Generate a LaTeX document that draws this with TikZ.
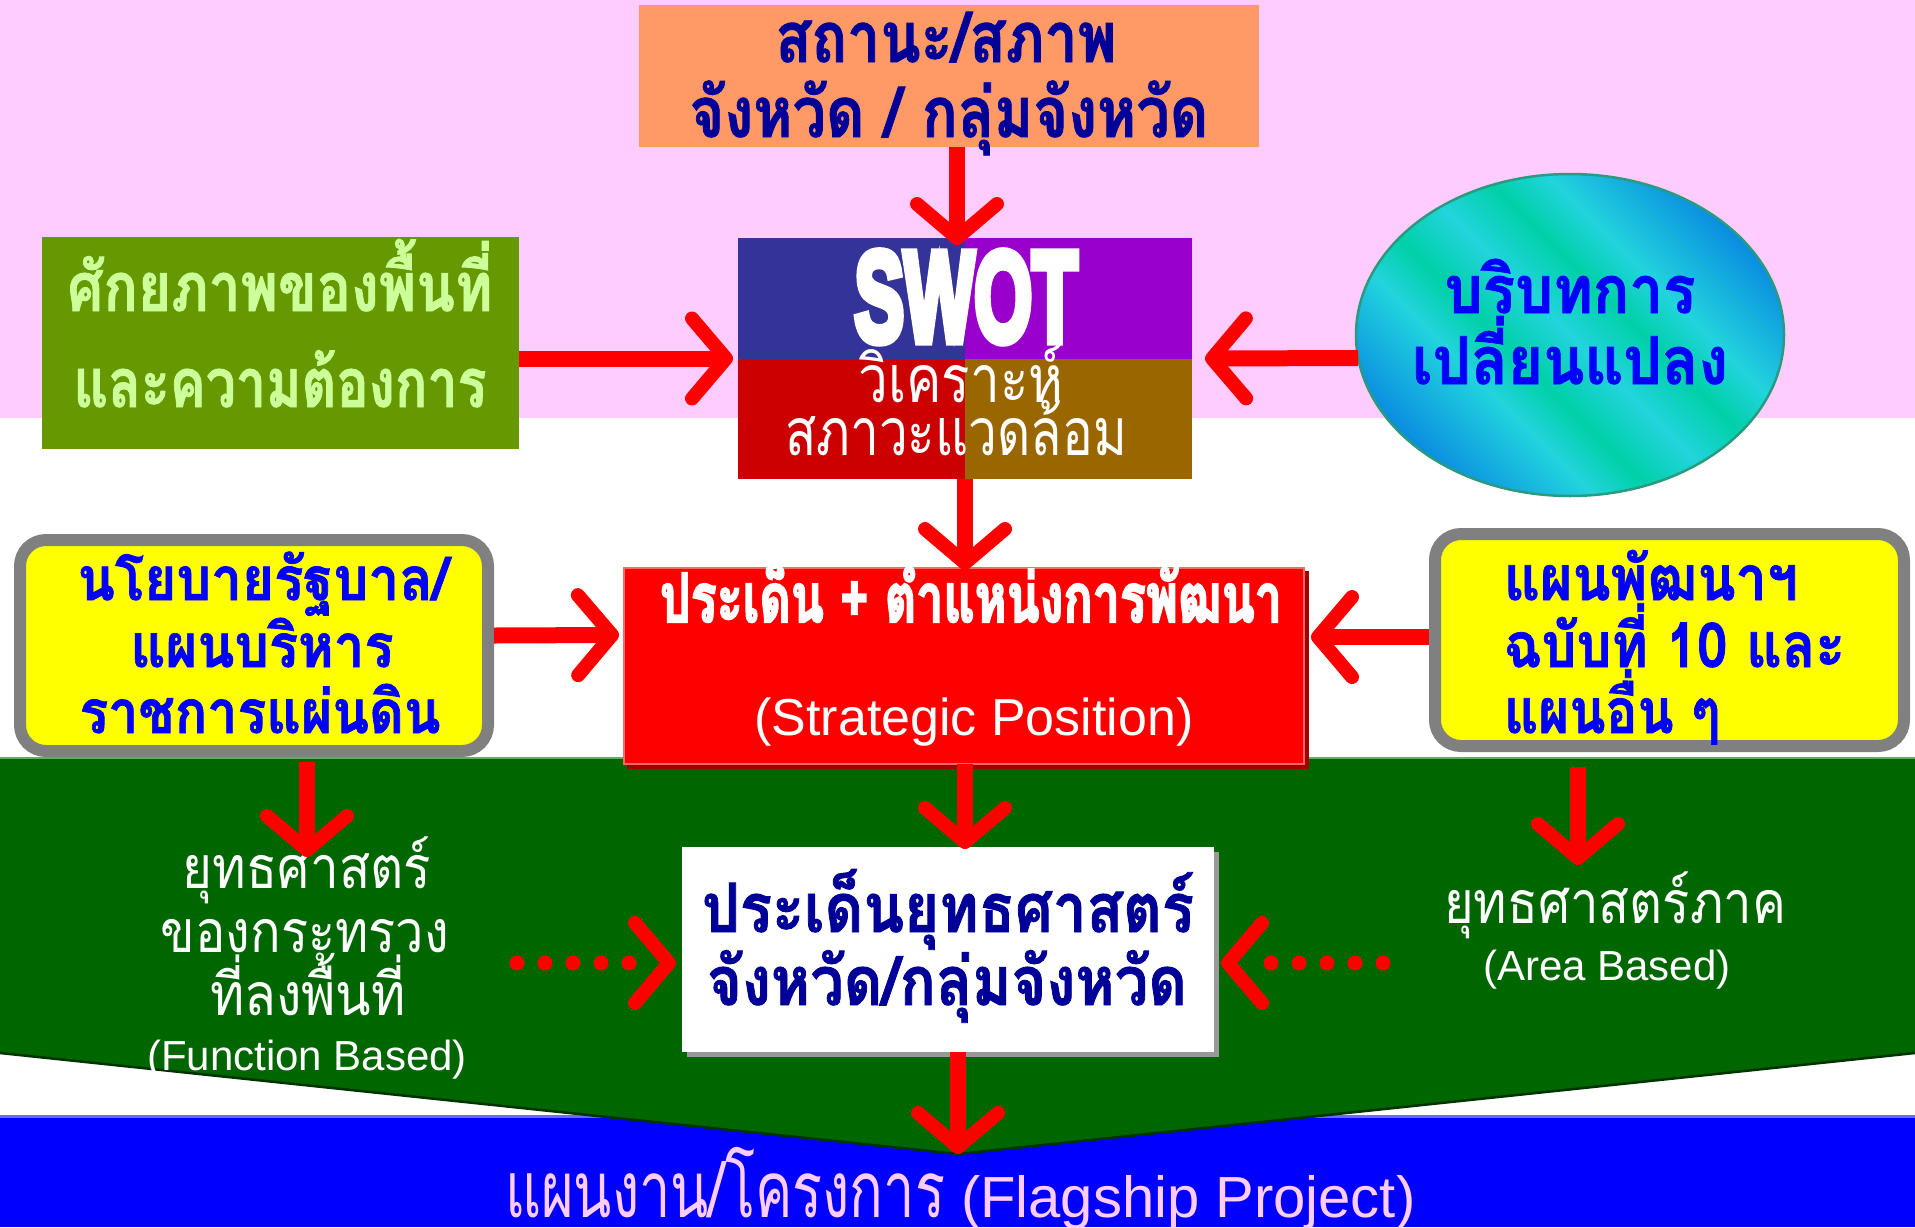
\documentclass[tikz,border=0pt]{standalone}
\usepackage{fontspec}
\usepackage{graphicx}
\usetikzlibrary{shapes.geometric,calc,decorations.markings}
\newfontfamily\thai[Script=Thai]{Loma}
\newfontfamily\thaib[Script=Thai,FakeBold=1.2]{Loma}
\newfontfamily\thaiheavy[Script=Thai,FakeBold=3]{Loma}
\newfontfamily\arial{Liberation Sans}
\newfontfamily\swotfont[FakeBold=7]{Liberation Sans}
\newcommand\fw[2]{\resizebox{#1pt}{\height}{#2}}
\definecolor{pinkc}{HTML}{FFCCFF}
\definecolor{orangec}{HTML}{FF9966}
\definecolor{gboxc}{HTML}{669900}
\definecolor{gtextc}{HTML}{CCFF99}
\definecolor{navyc}{HTML}{000099}
\definecolor{swa}{HTML}{333399}
\definecolor{swb}{HTML}{9900CC}
\definecolor{swc}{HTML}{CC0000}
\definecolor{swd}{HTML}{996600}
\definecolor{redc}{HTML}{FF0000}
\definecolor{darkredc}{HTML}{A00000}
\definecolor{lightredc}{HTML}{FF6666}
\definecolor{yellowc}{HTML}{FFFF00}
\definecolor{grayc}{HTML}{808080}
\definecolor{bluec}{HTML}{0000FF}
\definecolor{greenband}{HTML}{006600}
\definecolor{darkgreen}{HTML}{003300}
\definecolor{lightgreenline}{HTML}{66AA66}
\definecolor{blueline}{HTML}{6A6AFF}
\definecolor{shadowgray}{HTML}{999999}
\definecolor{eb}{HTML}{0A8EE0}
\definecolor{ec}{HTML}{22D4DD}
\definecolor{eg}{HTML}{00D0A8}
\definecolor{ellbord}{HTML}{2A9A80}
\pgfdeclarehorizontalshading{ellshade}{100bp}{color(0bp)=(eb); color(25bp)=(eb); color(37bp)=(ec); color(43bp)=(eg); color(50bp)=(ec); color(57bp)=(eg); color(63bp)=(ec); color(75bp)=(eb); color(100bp)=(eb)}
\begin{document}
\begin{tikzpicture}[x=1pt,y=-1pt,
  box/.style={rectangle,inner sep=0pt,outer sep=0pt},
  ybox/.style={rectangle,inner sep=0pt,outer sep=6pt,fill=yellowc,draw=grayc,line width=12pt,rounded corners=26pt},
  txt/.style={anchor=base,inner sep=0pt,outer sep=0pt},
  fb/.style={font=\thaib\bfseries\fontsize{#1pt}{#1pt}\selectfont},
  fr/.style={font=\thai\fontsize{#1pt}{#1pt}\selectfont},
  fa/.style={font=\arial\fontsize{#1pt}{#1pt}\selectfont},
  chev/.style={postaction={decorate,decoration={markings,mark=at position 1 with {\draw[redc,solid,line width=14pt,line cap=round,line join=round] (-34,-40) -- (0,0) -- (-34,40);}}}},
  arr/.style={draw=redc,line width=16pt,chev},
  dotl/.style={draw=redc,line width=15pt,line cap=round,dash pattern=on 0pt off 28pt},
]
\useasboundingbox (0,0) rectangle (1915,1227);
% backgrounds
\fill[white] (0,0) rectangle (1915,1227);
\fill[pinkc] (0,0) rectangle (1915,418);
\fill[bluec] (0,1115) rectangle (1915,1227);
\draw[blueline,line width=3pt] (0,1116.5) -- (1915,1116.5);
\fill[greenband] (0,757) -- (1915,757) -- (1915,1053) -- (958,1154) -- (0,1053) -- cycle;
\draw[darkgreen,line width=2.5pt] (0,1053) -- (958,1154) -- (1915,1053);
\draw[lightgreenline,line width=2pt] (0,758) -- (1915,758);
% top box
\node[box,fill=orangec,minimum width=620pt,minimum height=142pt] (orange) at (949,76) {};
\node[txt,fb=70,text=navyc] (o1) at (946,62) {\fw{341}{สถานะ/สภาพ}};
\node[txt,fb=70,text=navyc] (o2) at (949,137) {\fw{519}{จังหวัด / กลุ่มจังหวัด}};
% green box
\node[box,fill=gboxc,minimum width=477pt,minimum height=212pt] (gbox) at (280.5,343) {};
\node[txt,fb=68,text=gtextc] (g1) at (280,311) {\fw{425}{ศักยภาพของพื้นที่}};
\node[txt,fb=68,text=gtextc] (g2) at (280,407) {\fw{413}{และความต้องการ}};
% SWOT
\node[box,minimum width=454pt,minimum height=241pt,path picture={
  \fill[swa] (path picture bounding box.north west) rectangle (path picture bounding box.center);
  \fill[swb] (path picture bounding box.north east) rectangle (path picture bounding box.center);
  \fill[swc] (path picture bounding box.south west) rectangle (path picture bounding box.center);
  \fill[swd] (path picture bounding box.south east) rectangle (path picture bounding box.center);
}] (swot) at (965,358.5) {};
\node[txt,font=\swotfont\bfseries\fontsize{128pt}{128pt}\selectfont,text=white] (s1) at (966,341) {\fw{223}{SWOT}};
\node[txt,fr=66,text=white] (s2) at (961,402) {\fw{205}{วิเคราะห์}};
\node[txt,fr=66,text=white] (s3) at (956,455) {\fw{342}{สภาวะแวดล้อม}};
% ellipse
\node[ellipse,inner sep=0pt,outer sep=0pt,minimum width=428pt,minimum height=322pt,shading=ellshade,shading angle=45,draw=ellbord,line width=2.5pt] (ell) at (1570,335) {};
\node[txt,fb=66,text=bluec] (e1) at (1570,313) {\fw{251}{บริบทการ}};
\node[txt,fb=66,text=bluec] (e2) at (1570,384) {\fw{316}{เปลี่ยนแปลง}};
% left yellow
\node[ybox,minimum width=468pt,minimum height=211pt] (ly) at (254,645.5) {};
\node[txt,fb=60,text=bluec] (l1) at (263,600) {\fw{371}{นโยบายรัฐบาล/}};
\node[txt,fb=60,text=bluec] (l2) at (262,667) {\fw{263}{แผนบริหาร}};
\node[txt,fb=60,text=bluec] (l3) at (260,733) {\fw{361}{ราชการแผ่นดิน}};
% right yellow
\node[ybox,minimum width=469pt,minimum height=212pt] (ry) at (1669.5,640) {};
\node[txt,anchor=base west,fb=62,text=bluec] (r1) at (1504,600) {\fw{294}{แผนพัฒนาฯ}};
\node[txt,anchor=base west,fb=62,text=bluec] (r2) at (1504,667) {\fw{341}{ฉบับที่ 10 และ}};
\node[txt,anchor=base west,fb=62,text=bluec] (r3) at (1504,733) {\fw{216}{แผนอื่น ๆ}};
% red box
\fill[darkredc] (627,571) rectangle (1309,769);
\node[box,fill=redc,draw=lightredc,line width=2pt,minimum width=680pt,minimum height=196pt] (redbox) at (964,666) {};
\node[txt,font=\thaiheavy\bfseries\fontsize{68pt}{68pt}\selectfont,text=white] (rb1) at (971,622) {\fw{622}{ประเด็น + ตำแหน่งการพัฒนา}};
\node[txt,fa=52,text=white] (rb2) at (974,735) {(Strategic Position)};
% left green texts
\node[txt,fr=59,text=white] (lt1) at (307,888) {\fw{248}{ยุทธศาสตร์}};
\node[txt,fr=59,text=white] (lt2) at (305,952) {\fw{288}{ของกระทรวง}};
\node[txt,fr=59,text=white] (lt3) at (308,1015) {\fw{196}{ที่ลงพื้นที่}};
\node[txt,fa=42,text=white] (lt4) at (307,1070) {(Function Based)};
% white box
\fill[shadowgray] (687,852) rectangle (1219,1057);
\node[box,fill=white,minimum width=532pt,minimum height=205pt] (wbox) at (948,949.5) {};
\node[txt,fb=68,text=navyc] (w1) at (948,932) {\fw{492}{ประเด็นยุทธศาสตร์}};
\node[txt,fb=68,text=navyc] (w2) at (947,1005) {\fw{480}{จังหวัด/กลุ่มจังหวัด}};
% right green texts
\node[txt,fr=59,text=white] (rt1) at (1615,923) {\fw{342}{ยุทธศาสตร์ภาค}};
\node[txt,fa=42,text=white] (rt2) at (1607,980) {(Area Based)};
% bottom band text
\node[txt,anchor=base west,fr=78,text=pinkc] (bt) at (505,1217) {\fw{440}{แผนงาน/โครงการ}\hspace{16pt}{\arial\fontsize{58pt}{58pt}\selectfont(Flagship Project)}};
% connectors
\coordinate (apex) at (958,1154);
\draw[arr] ($(orange.south)+(8,0)$) -- ($(swot.north)+(-8,0)$);
\draw[arr] (gbox.east |- swot.west) -- ($(swot.west)+(-12,0)$);
\draw[arr] ($(ell.west)+(2,23)$) -- ($(swot.east)+(20,0)$);
\draw[arr] (swot.south) -- ($(redbox.north)+(1,-5)$);
\draw[arr] ($(ly.east)+(0,-10)$) -- ($(redbox.west)+(-12,-31)$);
\draw[arr] ($(ry.west)+(0,-3)$) -- ($(redbox.east)+(14,-29)$);
\draw[arr] ($(ly.south)+(53,5)$) -- ($(lt1.base)+(0,-38)$);
\draw[arr] ($(ry.south)+(-91.5,15)$) -- ($(rt1.base)+(-37,-65)$);
\draw[arr] ($(redbox.south)+(1,0)$) -- ($(wbox.north)+(17,-5)$);
\draw[arr] ($(wbox.south)+(10,0)$) -- ($(apex)+(0,-7)$);
\coordinate (dl1) at (517,963);
\coordinate (dl2) at (629,963);
\draw[dotl] (dl1) -- (dl2);
\path[chev] ($(wbox.west)+(-15,13.5)$) -- ($(wbox.west)+(-13,13.5)$);
\coordinate (dr1) at (1383,963);
\coordinate (dr2) at (1271,963);
\draw[dotl] (dr1) -- (dr2);
\path[chev] ($(wbox.east)+(16,13.5)$) -- ($(wbox.east)+(14,13.5)$);
\end{tikzpicture}
\end{document}
